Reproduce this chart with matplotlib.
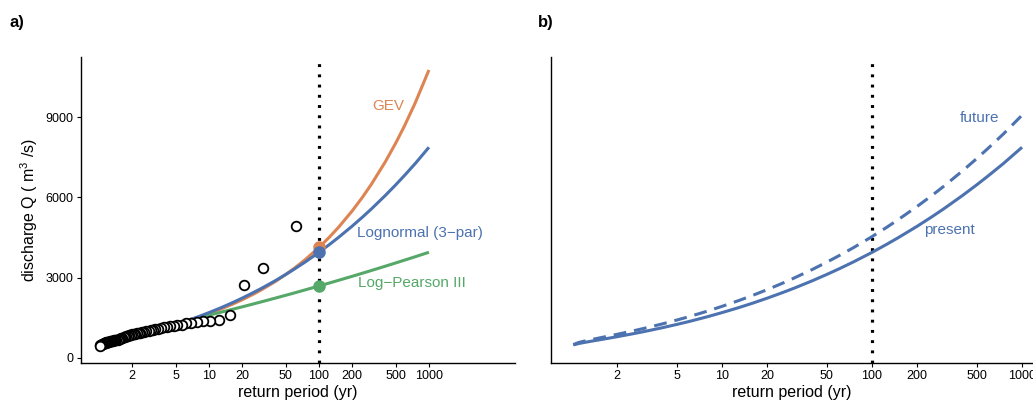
import numpy as np
import matplotlib
matplotlib.use("Agg")
import matplotlib.pyplot as plt
from matplotlib.ticker import FixedLocator, NullLocator, FixedFormatter

plt.rcParams['font.family'] = ['Liberation Sans', 'DejaVu Sans']
plt.rcParams['mathtext.fontset'] = 'custom'
plt.rcParams['mathtext.rm'] = 'Liberation Sans'
plt.rcParams['mathtext.default'] = 'regular'

# ---------------- data ----------------
# empirical annual maxima (return period, discharge)
obs_T = [62, 31, 20.7, 15.5, 12.4, 10.3, 8.86, 7.75, 6.89, 6.2, 5.64, 5.17, 4.77,
         4.43, 4.13, 3.88, 3.65, 3.44, 3.26, 3.1, 2.95, 2.82, 2.7, 2.58, 2.48,
         2.38, 2.3, 2.21, 2.14, 2.07, 2.0, 1.94, 1.88, 1.82, 1.77, 1.72, 1.68,
         1.63, 1.59, 1.55, 1.51, 1.48, 1.44, 1.41, 1.38, 1.35, 1.32, 1.29, 1.27,
         1.24, 1.22, 1.19, 1.17, 1.15, 1.13, 1.11, 1.09, 1.07, 1.05, 1.03, 1.02]
obs_Q = [4950, 3360, 2720, 1610, 1430, 1385, 1370, 1345, 1320, 1290, 1250, 1215, 1200,
         1185, 1160, 1140, 1120, 1095, 1070, 1060, 1045, 1025, 1000, 980, 960,
         950, 935, 925, 915, 900, 885, 870, 850, 830, 810, 790, 780,
         760, 740, 720, 700, 690, 675, 665, 655, 645, 640, 630, 620,
         615, 605, 595, 585, 575, 560, 545, 530, 510, 490, 470, 450]

# return periods at which the fitted curves were read
curve_T = [1.02, 1.1, 1.2, 1.35, 1.5, 1.75, 2, 2.5, 3, 4, 5, 6, 7, 8, 10, 13, 16,
           20, 25, 30, 40, 50, 60, 75, 100, 125, 150, 200, 250, 300, 400, 500,
           600, 750, 1000]

# Lognormal (3-par)  (= "present" in panel b)
ln_Q = [487, 536, 578, 629, 673, 738, 796, 897, 984, 1131, 1255, 1361, 1458, 1543,
        1696, 1887, 2049, 2235, 2432, 2601, 2886, 3123, 3326, 3587, 3946, 4245,
        4500, 4923, 5272, 5570, 6067, 6474, 6822, 7263, 7873]

# GEV
gev_Q = [556, 626, 674, 728, 771, 831, 883, 970, 1044, 1169, 1274, 1367, 1450, 1526,
         1662, 1839, 1992, 2173, 2372, 2548, 2855, 3122, 3359, 3675, 4130, 4524,
         4875, 5489, 6020, 6494, 7321, 8037, 8676, 9530, 10761]

# Log-Pearson III
lp3_Q = [487, 536, 578, 629, 673, 738, 796, 895, 980, 1128, 1250, 1355, 1440, 1503,
         1600, 1716, 1809, 1910, 2013, 2099, 2236, 2344, 2433, 2545, 2690, 2805,
         2900, 3051, 3171, 3270, 3428, 3553, 3656, 3783, 3950]

# panel b: future (dashed)
fut_Q = [500, 575, 628, 690, 742, 818, 885, 1002, 1103, 1274, 1418, 1542, 1653, 1752,
         1930, 2151, 2339, 2554, 2782, 2979, 3308, 3583, 3817, 4119, 4535, 4879,
         5175, 5665, 6066, 6411, 6986, 7456, 7857, 8367, 9071]

T100 = 100
q100_gev, q100_ln, q100_lp3 = 4135, 3950, 2690

x_ticks = [2, 5, 10, 20, 50, 100, 200, 500, 1000]
x_labels = ['2', '5', '10', '20', '50', '100', '200', '500', '1000']
y_ticks = [0, 3000, 6000, 9000]
y_labels = ['0', '3000', '6000', '9000']

c_blue = '#4C72B0'
c_orange = '#DD8452'
c_green = '#55A868'

# ---------------- figure ----------------
fig = plt.figure(figsize=(10.33, 4.05), dpi=100)
axa = fig.add_axes([0.0784, 0.1037, 0.4201, 0.7556])
axb = fig.add_axes([0.5334, 0.1037, 0.4666, 0.7556])

ylim = (-187, 11246)

def style(ax, xlim):
    ax.set_xscale('log')
    ax.set_xlim(*xlim)
    ax.set_ylim(*ylim)
    for s in ['top', 'right']:
        ax.spines[s].set_visible(False)
    for s in ['left', 'bottom']:
        ax.spines[s].set_linewidth(1.0)
    ax.xaxis.set_major_locator(FixedLocator(x_ticks))
    ax.xaxis.set_major_formatter(FixedFormatter(x_labels))
    ax.xaxis.set_minor_locator(NullLocator())
    ax.tick_params(axis='both', which='major', length=2.75, width=0.8,
                   labelsize=9, pad=2.5, colors='black')
    ax.set_xlabel('return period (yr)', fontsize=11.5, labelpad=2)
    ax.axvline(T100, ymax=0.985, color='black', lw=2.3, linestyle=(0, (0.9, 2.3)),
               dash_capstyle='butt', zorder=2)

# panel a
style(axa, (0.686, 6053))
axa.yaxis.set_major_locator(FixedLocator(y_ticks))
axa.yaxis.set_major_formatter(FixedFormatter(y_labels))
axa.set_ylabel(r'discharge Q ( m$^{3}$ /s)', fontsize=11.5, labelpad=4)

axa.plot(curve_T, gev_Q, color=c_orange, lw=2.2, zorder=3, solid_capstyle='butt')
axa.plot(curve_T, lp3_Q, color=c_green, lw=2.2, zorder=3.1, solid_capstyle='butt')
axa.plot(curve_T, ln_Q, color=c_blue, lw=2.2, zorder=3.2, solid_capstyle='butt')
axa.plot([T100], [q100_gev], 'o', color=c_orange, ms=8, zorder=4)
axa.plot([T100], [q100_lp3], 'o', color=c_green, ms=8, zorder=4.1)
axa.plot([T100], [q100_ln], 'o', color=c_blue, ms=8, zorder=4.2)
axa.scatter(obs_T, obs_Q, s=48, facecolor='white', edgecolor='black',
            linewidth=1.3, zorder=5)

axa.text(424, 9426, 'GEV', color=c_orange, fontsize=11, ha='center', va='center')
axa.text(828, 4681, 'Lognormal (3\u2212par)', color=c_blue, fontsize=11,
         ha='center', va='center')
axa.text(700, 2813, 'Log\u2212Pearson III', color=c_green, fontsize=11,
         ha='center', va='center')

# panel b
style(axb, (0.724, 1183))
axb.set_yticks([])
axb.plot(curve_T, ln_Q, color=c_blue, lw=2.2, zorder=3, solid_capstyle='butt')
axb.plot(curve_T, fut_Q, color=c_blue, lw=2.2, zorder=3,
         linestyle=(0, (4.2, 2.6)), dash_capstyle='butt')
axb.text(518, 8978, 'future', color=c_blue, fontsize=11, ha='center', va='center')
axb.text(326, 4782, 'present', color=c_blue, fontsize=11, ha='center', va='center')

fig.text(9 / 1033, 1 - 22 / 405, 'a)', fontsize=12, fontweight='bold',
         ha='left', va='center')
fig.text(538 / 1033, 1 - 22 / 405, 'b)', fontsize=12, fontweight='bold',
         ha='left', va='center')

fig.savefig('out.png', dpi=100)
